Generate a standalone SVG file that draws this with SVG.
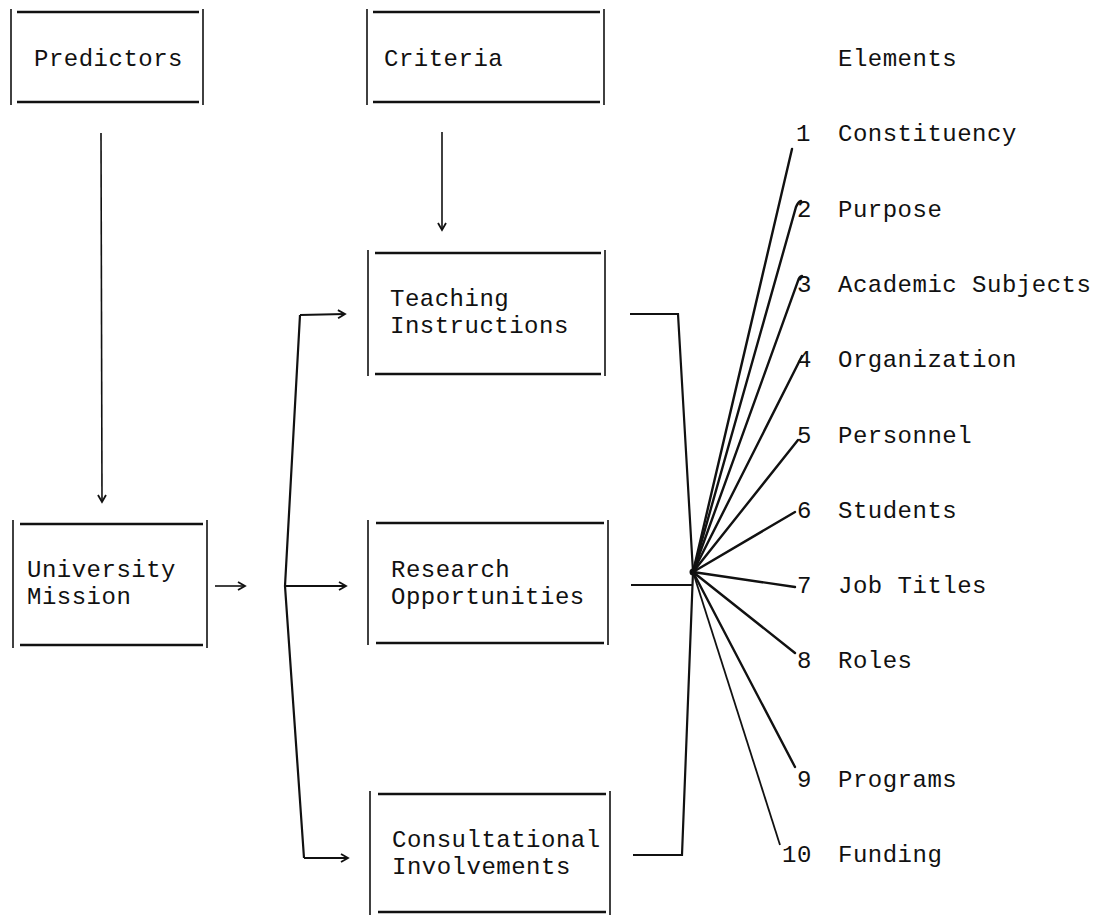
<svg xmlns="http://www.w3.org/2000/svg" width="1100" height="915" viewBox="0 0 1100 915">
<style>
  text { font-family: "Liberation Mono", "Courier New", monospace; font-size: 24px; letter-spacing: 0.5px; fill: #111; }
  .hz { stroke: #111; stroke-width: 2.6; fill: none; }
  .vt { stroke: #111; stroke-width: 1.6; fill: none; }
  .ln { stroke: #111; stroke-width: 2.2; fill: none; stroke-linejoin: miter; }
  .th { stroke: #111; stroke-width: 1.6; fill: none; }
  .fan { stroke: #111; stroke-width: 2.4; fill: none; stroke-linecap: round; }
</style>
<defs>
  <marker id="ah" markerWidth="10" markerHeight="10" refX="8" refY="5" orient="auto" markerUnits="userSpaceOnUse">
    <path d="M1,1 L8,5 L1,9" fill="none" stroke="#111" stroke-width="1.8"/>
  </marker>
</defs>
<rect width="1100" height="915" fill="#fff"/>

<g id="predictors">
  <line class="vt" x1="11" y1="9" x2="11" y2="105"/>
  <line class="vt" x1="203" y1="9" x2="203" y2="105"/>
  <line class="hz" x1="17" y1="12" x2="199" y2="12"/>
  <line class="hz" x1="17" y1="102" x2="199" y2="102"/>
  <text x="34" y="66">Predictors</text>
</g>

<g id="criteria">
  <line class="vt" x1="367" y1="9" x2="367" y2="105"/>
  <line class="vt" x1="604" y1="9" x2="604" y2="105"/>
  <line class="hz" x1="373" y1="12" x2="600" y2="12"/>
  <line class="hz" x1="373" y1="102" x2="600" y2="102"/>
  <text x="384" y="66">Criteria</text>
</g>

<g id="elements-title">
  <text x="838" y="66">Elements</text>
</g>

<g id="university">
  <line class="vt" x1="13" y1="520" x2="13" y2="648"/>
  <line class="vt" x1="207" y1="520" x2="207" y2="648"/>
  <line class="hz" x1="20" y1="524" x2="203" y2="524"/>
  <line class="hz" x1="20" y1="645" x2="203" y2="645"/>
  <text x="27" y="577">University</text>
  <text x="27" y="604">Mission</text>
</g>

<g id="teaching">
  <line class="vt" x1="368" y1="250" x2="368" y2="376"/>
  <line class="vt" x1="605" y1="250" x2="605" y2="376"/>
  <line class="hz" x1="375" y1="253" x2="601" y2="253"/>
  <line class="hz" x1="375" y1="374" x2="601" y2="374"/>
  <text x="390" y="306">Teaching</text>
  <text x="390" y="333">Instructions</text>
</g>

<g id="research">
  <line class="vt" x1="368" y1="520" x2="368" y2="645"/>
  <line class="vt" x1="608" y1="520" x2="608" y2="645"/>
  <line class="hz" x1="376" y1="523" x2="604" y2="523"/>
  <line class="hz" x1="376" y1="643" x2="604" y2="643"/>
  <text x="391" y="577">Research</text>
  <text x="391" y="604">Opportunities</text>
</g>

<g id="consultational">
  <line class="vt" x1="370" y1="791" x2="370" y2="915"/>
  <line class="vt" x1="610" y1="791" x2="610" y2="915"/>
  <line class="hz" x1="378" y1="794" x2="606" y2="794"/>
  <line class="hz" x1="378" y1="912" x2="606" y2="912"/>
  <text x="392" y="847">Consultational</text>
  <text x="392" y="874">Involvements</text>
</g>

<g id="element-labels">
  <text x="796" y="141">1</text><text x="838" y="141">Constituency</text>
  <text x="797" y="217">2</text><text x="838" y="217">Purpose</text>
  <text x="797" y="292">3</text><text x="838" y="292">Academic Subjects</text>
  <text x="797" y="367">4</text><text x="838" y="367">Organization</text>
  <text x="797" y="443">5</text><text x="838" y="443">Personnel</text>
  <text x="797" y="518">6</text><text x="838" y="518">Students</text>
  <text x="797" y="593">7</text><text x="838" y="593">Job Titles</text>
  <text x="797" y="668">8</text><text x="838" y="668">Roles</text>
  <text x="797" y="787">9</text><text x="838" y="787">Programs</text>
  <text x="782" y="862">10</text><text x="838" y="862">Funding</text>
</g>

<g id="connectors">
  <line class="th" x1="101" y1="133" x2="102" y2="502" marker-end="url(#ah)"/>
  <line class="th" x1="442" y1="132" x2="442" y2="230" marker-end="url(#ah)"/>
  <line class="th" x1="215" y1="586" x2="245" y2="586" marker-end="url(#ah)"/>
  <polyline class="ln" points="300,315 285,586 304,858"/>
  <line class="ln" x1="300" y1="315" x2="345" y2="314" marker-end="url(#ah)"/>
  <line class="ln" x1="285" y1="586" x2="346" y2="586" marker-end="url(#ah)"/>
  <line class="ln" x1="304" y1="858" x2="348" y2="858" marker-end="url(#ah)"/>
  <polyline class="ln" points="630,314 678,314 693,572 682,855 633,855"/>
  <line class="ln" x1="631" y1="585" x2="692" y2="585"/>
  <circle cx="693" cy="572" r="3.5" fill="#111"/>
  <line class="fan" x1="693" y1="572" x2="792" y2="149"/>
  <path class="fan" d="M693,572 L796,207 Q798,202 801,201"/>
  <path class="fan" d="M693,572 L798,281 Q799,277 802,276"/>
  <line class="fan" x1="693" y1="572" x2="802" y2="356"/>
  <line class="fan" x1="693" y1="572" x2="798" y2="440"/>
  <line class="fan" x1="693" y1="572" x2="795" y2="512"/>
  <line class="fan" x1="693" y1="572" x2="795" y2="587"/>
  <line class="fan" x1="693" y1="572" x2="795" y2="653"/>
  <line class="fan" x1="693" y1="572" x2="795" y2="767"/>
  <line class="th" x1="693" y1="572" x2="780" y2="845" style="stroke-width:1.8"/>
</g>
</svg>
